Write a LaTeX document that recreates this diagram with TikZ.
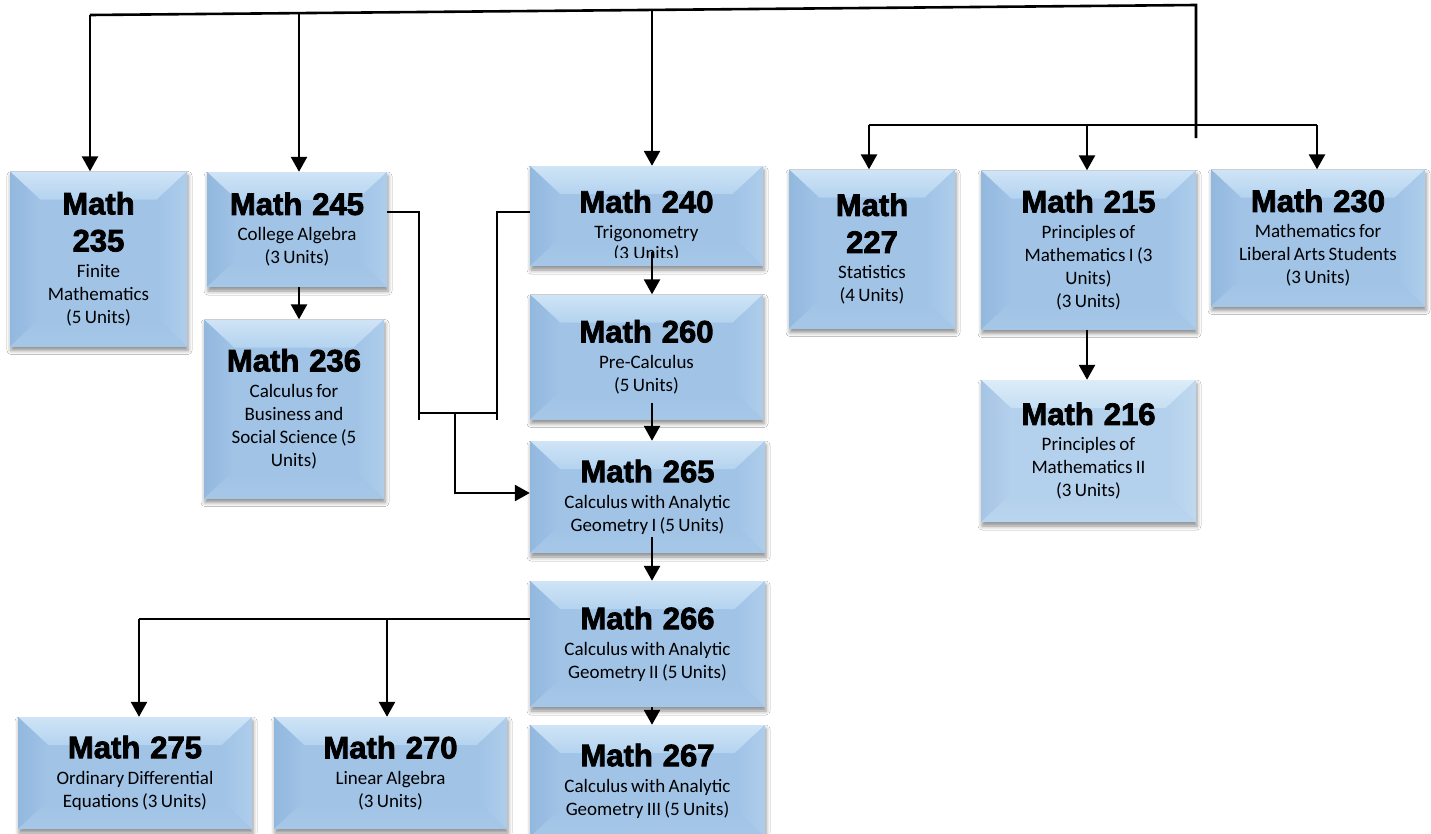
\documentclass[tikz,border=0pt]{standalone}
\usepackage{fontspec}
\setmainfont{Carlito}
\newfontfamily\titlefont[BoldFeatures={FakeBold=2.5}]{Liberation Sans}
\newfontfamily\subfont{Carlito}
\usetikzlibrary{arrows.meta,calc,shadows.blur}

\definecolor{bfA}{HTML}{A0C3E6}
\definecolor{btA}{HTML}{B4D3EF}
\definecolor{btAtop}{HTML}{CFE4F6}
\definecolor{blA}{HTML}{93B8DE}
\definecolor{brA}{HTML}{AECDEB}
\definecolor{bbA}{HTML}{A6C7E7}
\definecolor{bfB}{HTML}{B3D0EC}
\definecolor{btB}{HTML}{C6DFF3}
\definecolor{btBtop}{HTML}{DCECF8}
\definecolor{blB}{HTML}{A6C5E4}
\definecolor{brB}{HTML}{C0D9F0}
\definecolor{bbB}{HTML}{BAD5EE}

\newcommand\bevdraw[1]{%
  \path (path picture bounding box.north west) coordinate (NW)
        (path picture bounding box.north east) coordinate (NE)
        (path picture bounding box.south west) coordinate (SW)
        (path picture bounding box.south east) coordinate (SE);
  \path ($(NW)+(30,28)$) coordinate (iNW)
        ($(NE)+(-30,28)$) coordinate (iNE)
        ($(SW)+(30,-28)$) coordinate (iSW)
        ($(SE)+(-30,-28)$) coordinate (iSE);
  \shade[top color=bt#1top, bottom color=bt#1] (NW) -- (NE) -- (iNE) -- (iNW) -- cycle;
  \shade[left color=bl#1, right color=bf#1] (NW) -- (iNW) -- (iSW) -- (SW) -- cycle;
  \shade[left color=bf#1, right color=br#1] (NE) -- (SE) -- (iSE) -- (iNE) -- cycle;
  \shade[top color=bf#1, bottom color=bb#1] (SW) -- (iSW) -- (iSE) -- (SE) -- cycle;
}
\newcommand\ttl[1]{{\titlefont\bfseries\fontsize{31}{37}\selectfont\spaceskip=10pt #1\par}}
\newcommand\sbt[1]{{\vskip 3pt\subfont\fontsize{19}{23}\selectfont #1\par}}

\tikzset{
  bevbox/.style n args={3}{rectangle, inner sep=0pt, text width=#1,
    minimum height=#2, align=center, fill=bf#3,
    path picture={\bevdraw{#3}},
    blur shadow={shadow xshift=1pt, shadow yshift=-4pt, shadow blur radius=4pt, shadow opacity=45}},
  conn/.style={line width=2.6pt},
  arr/.style={line width=2.6pt, -{Triangle[width=16pt,length=15pt]}},
}

\begin{document}
\begin{tikzpicture}[x=1pt,y=-1pt]
\fill[white] (0,0) rectangle (1431,833);
\useasboundingbox (0,0) rectangle (1431,833);

% boxes
\node[bevbox={177pt}{175pt}{A}] (m235) at (98.5,259) {\ttl{Math\\235}\sbt{Finite\\Mathematics\\(5 Units)}};
\node[bevbox={180pt}{115pt}{A}] (m245) at (297,229.5) {\ttl{Math 245}\sbt{College Algebra\\(3 Units)}};
\node[bevbox={180pt}{179pt}{A}] (m236) at (294,409) {\ttl{Math 236}\sbt{Calculus for\\Business and\\Social Science (5\\Units)}};
\node[bevbox={233pt}{100pt}{A}] (m240) at (646.5,216) {\ttl{Math 240}\sbt{Trigonometry}};
\node[bevbox={233pt}{125pt}{A}] (m260) at (646.5,357) {\ttl{Math 260}\sbt{Pre-Calculus\\(5 Units)}};
\node[bevbox={235pt}{112pt}{A}] (m265) at (647.5,497) {\ttl{Math 265}\sbt{Calculus with Analytic\\Geometry I (5 Units)}};
\node[bevbox={235pt}{126pt}{A}] (m266) at (647.5,644) {\ttl{Math 266}\sbt{Calculus with Analytic\\Geometry II (5 Units)}};
\node[bevbox={235pt}{112pt}{A}] (m267) at (647.5,781) {\ttl{Math 267}\sbt{Calculus with Analytic\\Geometry III (5 Units)}};
\node[bevbox={166pt}{159pt}{A}] (m227) at (872,249) {\ttl{Math\\227}\sbt{Statistics\\(4 Units)}};
\node[bevbox={215pt}{159pt}{A}] (m215) at (1088.5,250) {\ttl{Math 215}\sbt{Principles of\\Mathematics I (3\\Units)\\(3 Units)}};
\node[bevbox={214pt}{137pt}{A}] (m230) at (1318,238) {\ttl{Math 230}\sbt{Mathematics for\\Liberal Arts Students\\(3 Units)}};
\node[bevbox={215pt}{142pt}{B}] (m216) at (1088.5,451) {\ttl{Math 216}\sbt{Principles of\\Mathematics II\\(3 Units)}};
\node[bevbox={234pt}{112pt}{A}] (m275) at (135,773) {\ttl{Math 275}\sbt{Ordinary Differential\\Equations (3 Units)}};
\node[bevbox={233pt}{112pt}{A}] (m270) at (390.5,773) {\ttl{Math 270}\sbt{Linear Algebra\\(3 Units)}};

% partially hidden line of Math 240
\begin{scope}
  \clip (530,238) rectangle (763,257.5);
  \node[font=\subfont\fontsize{19}{23}\selectfont, inner sep=0pt] (u240) at (646.5,254) {(3 Units)};
\end{scope}

% top bar
\coordinate (tl) at (90,15);
\coordinate (tr) at (1196,5);
\coordinate (tend) at (1196,138);
\coordinate (t245) at (299,13.1);
\coordinate (t240) at (652,9.9);
\draw[conn] (tl) -- (tr) -- (tend);
\draw[arr] (tl) -- (tl |- m235.north);
\draw[arr] (t245) -- (t245 |- m245.north);
\draw[arr] (t240) -- (t240 |- m240.north);

% right bar
\coordinate (rb1) at (869,125);
\coordinate (rb2) at (1087,125);
\coordinate (rb3) at (1317,125);
\draw[conn] (rb1) -- (rb3);
\draw[arr] (rb1) -- (rb1 |- m227.north);
\draw[arr] (rb2) -- (rb2 |- m215.north);
\draw[arr] (rb3) -- (rb3 |- m230.north);
\draw[arr] (m215.south -| rb2) -- (rb2 |- m216.north);

% 245 -> 236
\draw[arr] (m245.south -| t245) -- (t245 |- m236.north);

% 245 / 240 -> 265
\coordinate (a1) at (419,212);
\coordinate (a2) at (419,420);
\coordinate (b1) at (497,212);
\coordinate (b2) at (497,420);
\coordinate (c1) at (419,413);
\coordinate (c2) at (497,413);
\coordinate (d1) at (455,413);
\coordinate (d2) at (455,493);
\draw[conn] (m245.east |- a1) -- (a1) -- (a2);
\draw[conn] (m240.west |- b1) -- (b1) -- (b2);
\draw[conn] (c1) -- (c2);
\draw[arr] (d1) -- (d2) -- (d2 -| m265.west);

% central chain
\coordinate (e1) at (652,252);
\coordinate (e2) at (652,403);
\coordinate (e3) at (652,537);
\draw[arr] (e1) -- (e1 |- m260.north);
\draw[arr] (e2) -- (e2 |- m265.north);
\draw[arr] (e3) -- (e3 |- m266.north);
\draw[arr] (m266.south -| e3) -- (e3 |- m267.north);

% 266 -> 275, 270
\coordinate (f1) at (139,619);
\coordinate (f2) at (387,619);
\draw[conn] (m266.west |- f1) -- (f1);
\draw[arr] (f1) -- (f1 |- m275.north);
\draw[arr] (f2) -- (f2 |- m270.north);
\end{tikzpicture}
\end{document}
